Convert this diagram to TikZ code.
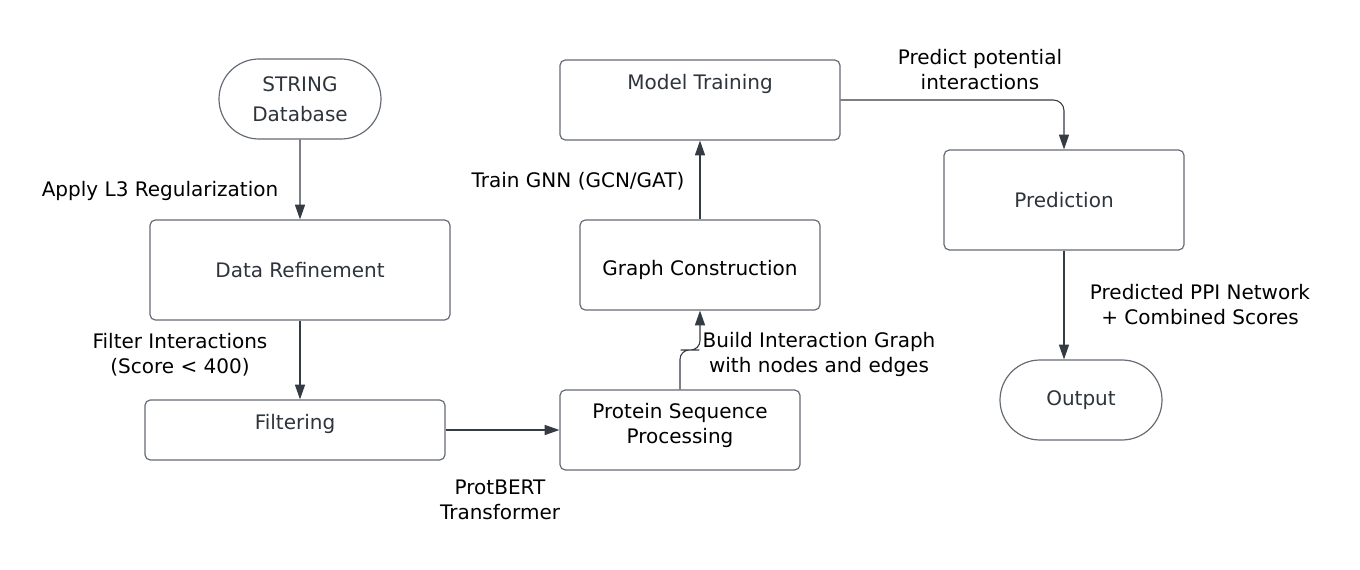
\documentclass[tikz,border=0pt]{standalone}
\usepackage{fontspec}
\setmainfont{DejaVu Sans}
\usetikzlibrary{arrows.meta, shapes.misc, calc}
\definecolor{flowline}{HTML}{353B43}
\definecolor{flowedge}{HTML}{666C74}
\definecolor{flowtext}{HTML}{2E343B}

\begin{document}
\begin{tikzpicture}[x=0.75pt,y=-0.75pt,font=\fontsize{15}{18.75}\selectfont,
    stage/.style={draw=flowedge,line width=0.9pt,rounded corners=4pt,inner sep=0pt,align=center,text=flowtext},
    terminal/.style={rounded rectangle,draw=flowedge,line width=0.9pt,inner sep=0pt,align=center,text=flowtext,minimum width=121.5pt,minimum height=60pt},
    flow/.style={-{Triangle[length=11pt,width=7.5pt]},flowline,line width=0.8pt},
    note/.style={align=center,text=black}]
    \useasboundingbox (0,0) rectangle (1360,570);
    % stages
    \node[terminal,font=\fontsize{15}{22.5}\selectfont] (db) at (300,99) {STRING\\Database};
    \node[stage,minimum width=225pt,minimum height=75pt] (refine) at (300,270) {Data Refinement};
    \node[stage,minimum width=225pt,minimum height=45pt,text height=11pt,text depth=12pt] (filter) at (295,430) {Filtering};
    \node[stage,text=black,minimum width=180pt,minimum height=60pt,text height=29.75pt,text depth=9pt] (protein) at (680,430) {Protein Sequence\\Processing};
    \node[stage,text=black,minimum width=180pt,minimum height=67.5pt,text height=20pt,text depth=3.5pt] (graph) at (700,265) {Graph Construction};
    \node[stage,minimum width=210pt,minimum height=60pt,text height=11pt,text depth=27pt] (train) at (700,100) {Model Training};
    \node[stage,minimum width=180pt,minimum height=75pt] (predict) at (1064,200) {Prediction};
    \node[terminal] (output) at (1081,400) {Output};
    % connectors
    \draw[flow] (db) -- (refine);
    \draw[flow] (refine.south) -- (refine.south |- filter.north);
    \draw[flow] (filter) -- (protein);
    \coordinate (step) at ($(protein.north)!0.5!(graph.south)$);
    \draw[flow,rounded corners=7pt] (protein.north) |- (step) -| (graph.south);
    \draw[flow] (graph) -- (train);
    \draw[flow,rounded corners=8pt] (train.east) -| (predict.north);
    \draw[flow] (predict.south) -- (predict.south |- output.north);
    % labels
    \node[note] (l3) at (160,191) {Apply L3 Regularization};
    \node[note] (scorelab) at (180,355) {Filter Interactions\\(Score < 400)};
    \node[note] (bertlab) at (500,500) {ProtBERT\\Transformer};
    \node[note] (buildlab) at (819,354) {Build Interaction Graph\\with nodes and edges};
    \node[note] (gnnlab) at (578,181) {Train GNN (GCN/GAT)};
    \node[note] (predlab) at (980,70) {Predict potential\\interactions};
    \node[note] (ppilab) at (1200,305) {Predicted PPI Network\\+ Combined Scores};
\end{tikzpicture}
\end{document}
